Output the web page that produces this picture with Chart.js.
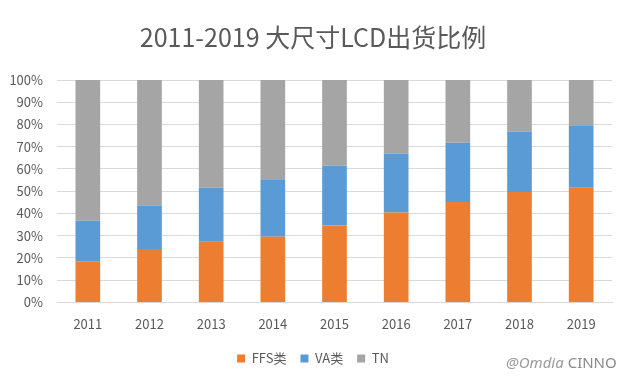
<!DOCTYPE html>
<html>
<head>
<meta charset="utf-8">
<script src="https://cdn.jsdelivr.net/npm/chart.js@4/dist/chart.umd.min.js"></script>
<style>
  html, body { margin: 0; padding: 0; background: #fff; }
  #wrap { position: relative; width: 626px; height: 386px; }
  #mark { position: absolute; left: 506px; top: 352px; font-family: "Noto Sans", sans-serif; font-size: 15px; color: #8a8a8a; white-space: nowrap; }
  #mark i { color: #9a9a9a; }
</style>
</head>
<body>
<div id="wrap">
  <canvas id="shareChart" width="626" height="386"></canvas>
  <div id="mark"><i>@Omdia</i> CINNO</div>
</div>
<script>
// Data (percent of shipments)
const years = ["2011", "2012", "2013", "2014", "2015", "2016", "2017", "2018", "2019"];
const ffsShare = [18.5, 24, 27.3, 29.5, 34.6, 40.4, 45.1, 49.6, 51.6];
const vaShare = [18.2, 19.6, 24.3, 25.9, 26.8, 26.4, 26.7, 27.2, 27.7];
const tnShare = [63.3, 56.4, 48.4, 44.6, 38.6, 33.2, 28.2, 23.2, 20.7];
const seriesNames = ["FFS类", "VA类", "TN"];

const textColor = "#595959";
const fontFamily = "'Noto Sans CJK SC', 'Noto Sans', sans-serif";

const ctx = document.getElementById("shareChart").getContext("2d");

new Chart(ctx, {
  type: "bar",
  data: {
    labels: years,
    datasets: [
      { label: seriesNames[0], data: ffsShare, backgroundColor: "#ED7D31" },
      { label: seriesNames[1], data: vaShare, backgroundColor: "#5B9BD5" },
      { label: seriesNames[2], data: tnShare, backgroundColor: "#A5A5A5" },
    ],
  },
  options: {
    responsive: false,
    animation: false,
    layout: { padding: { left: 0, right: 0, top: 22, bottom: 11 } },
    datasets: { bar: { categoryPercentage: 1, barPercentage: 0.4 } },
    plugins: {
      title: {
        display: true,
        text: "2011-2019 大尺寸LCD出货比例",
        color: textColor,
        font: { family: fontFamily, size: 25, weight: "normal" },
        padding: { top: 0, bottom: 28 },
      },
      legend: {
        position: "bottom",
        align: "center",
        labels: {
          color: textColor,
          font: { family: fontFamily, size: 13 },
          boxWidth: 8,
          boxHeight: 8,
          padding: 14,
        },
      },
      tooltip: { enabled: false },
    },
    scales: {
      x: {
        stacked: true,
        grid: { display: false },
        border: { color: "#D9D9D9" },
        ticks: { color: textColor, font: { family: fontFamily, size: 13 }, padding: 6 },
      },
      y: {
        stacked: true,
        min: 0,
        max: 100,
        afterFit: (axis) => { axis.width = 57; },
        grid: { color: "#D9D9D9", drawTicks: false },
        border: { display: false },
        ticks: {
          stepSize: 10,
          color: textColor,
          padding: 14,
          font: { family: fontFamily, size: 13 },
          callback: (v) => v + "%",
        },
      },
      // empty right-hand spacer so the title and legend stay centred on the page
      spacer: {
        type: "linear",
        position: "right",
        min: 0,
        max: 100,
        afterFit: (axis) => { axis.width = 14; },
        grid: { display: false },
        border: { display: false },
        ticks: { display: false },
      },
    },
  },
});
</script>
</body>
</html>
